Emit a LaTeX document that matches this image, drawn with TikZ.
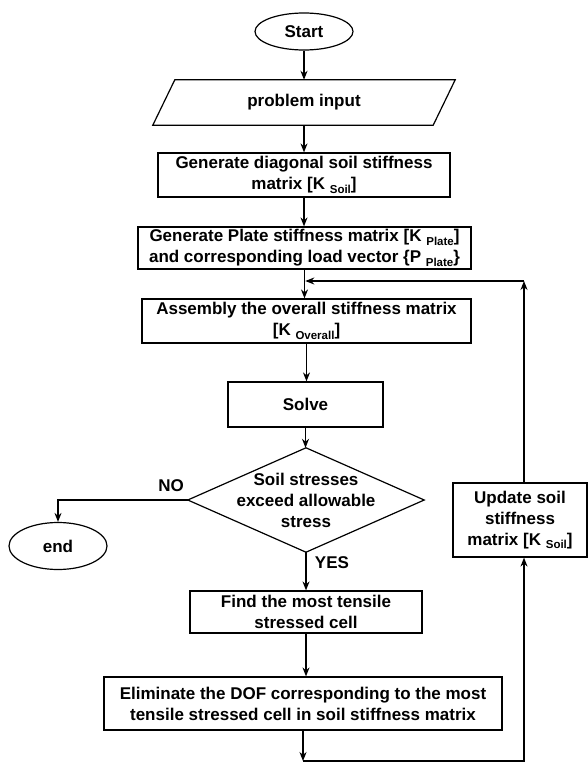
\documentclass[tikz,border=0pt]{standalone}
\usepackage{fontspec}
\setmainfont{Liberation Sans}
\usetikzlibrary{shapes.geometric,arrows.meta,calc}
\newcommand\lsub[1]{\raisebox{-0.35ex}{\fontsize{11.5}{12}\selectfont #1}}
\begin{document}
\begin{tikzpicture}[x=1pt,y=-1pt,
  every node/.style={font=\bfseries\fontsize{17}{21}\selectfont, align=center, inner sep=0pt},
  frame/.style={draw, line width=1.2pt},
  box/.style={draw, rectangle, line width=1.2pt},
  ell/.style={draw, ellipse, line width=1.2pt},
  arr/.style={line width=1.2pt, -{Stealth[length=9pt,width=7pt]}},
  ln/.style={line width=1.2pt}]
\useasboundingbox (0,0) rectangle (588,762);
\node[ell, minimum width=98, minimum height=37] (start) at (304,31.5) {Start};
\node[minimum width=302, minimum height=45] (input) at (304,102.5) {problem input};
\draw[frame] ($(input.north west)+(22,0)$) -- (input.north east) -- ($(input.south east)+(-22,0)$) -- (input.south west) -- cycle;
\node[box, minimum width=292, minimum height=44] (gen1) at (304,175) {Generate diagonal soil stiffness\\matrix [K \lsub{Soil}]};
\node[box, minimum width=333, minimum height=42] (gen2) at (304.5,248) {Generate Plate stiffness matrix [K \lsub{Plate}]\\and corresponding load vector \{P \lsub{Plate}\}};
\node[box, minimum width=329, minimum height=44] (asm) at (306.5,321) {Assembly the overall stiffness matrix\\\relax[K \lsub{Overall}]};
\node[box, minimum width=155, minimum height=45] (solve) at (305.5,404.5) {Solve};
\node[minimum width=236, minimum height=104] (dec) at (306,500) {Soil stresses\\exceed allowable\\stress};
\draw[frame] (dec.north) -- (dec.east) -- (dec.south) -- (dec.west) -- cycle;
\node[ell, minimum width=98, minimum height=47] (end) at (58,546) {end};
\node[box, minimum width=134, minimum height=74] (upd) at (520,520) {Update soil\\stiffness\\matrix [K \lsub{Soil}]};
\node[box, minimum width=232, minimum height=42] (find) at (306,612) {Find the most tensile\\stressed cell};
\node[box, minimum width=398, minimum height=53] (elim) at (303,703.5) {Eliminate the DOF corresponding to the most\\tensile stressed cell in soil stiffness matrix};
\node (no) at (171,486) {NO};
\node (yes) at (332,563) {YES};
% connectors
\draw[arr] (start.south) -- (start.south |- input.north);
\draw[arr] (input.south) -- (input.south |- gen1.north);
\draw[arr] (gen1.south) -- (gen1.south |- gen2.north);
\draw[arr] (gen2.south) -- (gen2.south |- asm.north);
\coordinate (jn) at ($(gen2.south |- 0,281)+(0.8,0)$);
\coordinate (cr) at ([xshift=4pt]upd.north |- jn);
\draw[arr] ([xshift=4pt]upd.north) -- (cr);
\draw[arr] (cr) -- (jn);
\draw[arr] (asm.south) -- (asm.south |- solve.north);
\draw[arr] (solve.south) -- (solve.south |- dec.north);
\draw[arr] (dec.west) -| (end.north);
\draw[arr] (dec.south) -- (find.north);
\draw[arr] (find.south) -- (find.south |- elim.north);
\coordinate (bt) at (elim.south |- 0,761);
\draw[arr] (elim.south) -- (bt);
\draw[arr] (bt) -| ([xshift=4pt]upd.south);
\end{tikzpicture}
\end{document}
